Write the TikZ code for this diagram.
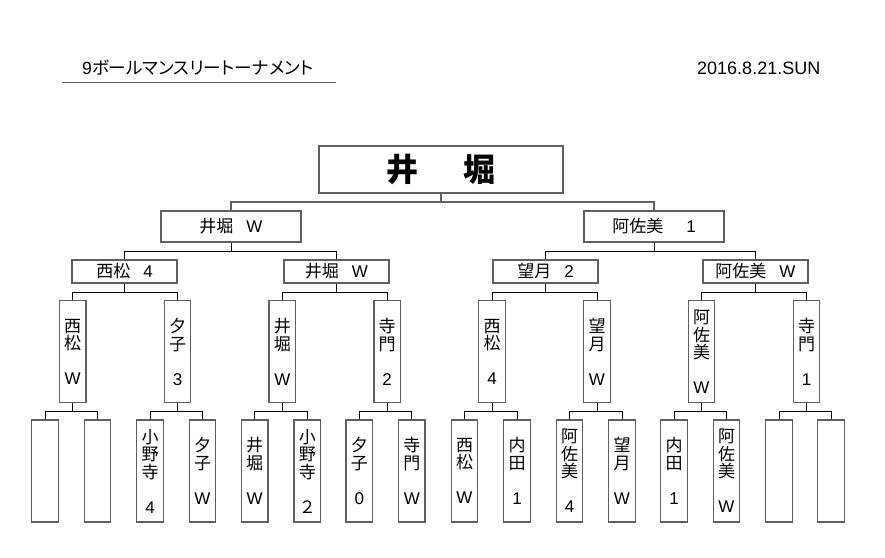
\documentclass[tikz,border=0pt]{standalone}
\usepackage{fontspec}
\setmainfont{Liberation Sans}
\newfontfamily\jp{Noto Sans CJK JP}
\newfontfamily\jpp[RawFeature=+palt]{Noto Sans CJK JP}
\definecolor{boxgray}{HTML}{606060}
\newcommand\JP[1]{{\jp #1}}
\begin{document}
\begin{tikzpicture}[x=1pt,y=-1pt,
  box/.style={draw=boxgray, line width=1.3pt, inner sep=0pt, fill=white},
  topbox/.style={box, minimum width=244pt, minimum height=47pt, font=\jp\bfseries\fontsize{32}{34}\selectfont},
  lvtwo/.style={box, minimum width=140pt, minimum height=31pt, font=\fontsize{17}{20}\selectfont},
  lvthree/.style={box, minimum width=105pt, minimum height=23pt, font=\fontsize{17}{20}\selectfont},
  vbox/.style={box, minimum width=26.5pt, minimum height=102pt, align=center, font=\fontsize{17}{17.5}\selectfont},
  link/.style={draw=black, line width=0.9pt},
  toplink/.style={draw=boxgray, line width=1.6pt},
  plain/.style={inner sep=0pt, anchor=west}
]
\useasboundingbox (0,0) rectangle (885,557);
\fill[white] (0,0) rectangle (885,557);

% header
\node[plain, font=\fontsize{17.6}{20}\selectfont] (title) at (82,68) {9{\jpp ボールマンスリートーナメント}};
\coordinate (ulA) at (62,82);
\coordinate (ulB) at (336,82);
\draw[draw=boxgray, line width=1pt] (ulA) -- (ulB);
\node[plain, font=\fontsize{18}{20}\selectfont] (date) at (697,68) {2016.8.21.SUN};

% levels
\coordinate (ya) at (0,202);
\coordinate (yb) at (0,251);
\coordinate (yc) at (0,292);
\coordinate (yd) at (0,411);

\node[topbox] (top) at (441,169.5) {井\hspace{45pt}堀};

\node[lvtwo] (Ltwo) at (231,226.5) {\JP{井堀}\hspace{13pt}W};
\node[lvtwo] (Rtwo) at (654,226.5) {\JP{阿佐美}\hspace{23pt}1};

\node[lvthree] (Ta) at (124.5,271.5) {\JP{西松}\hspace{13pt}4};
\node[lvthree] (Tb) at (336.5,271.5) {\JP{井堀}\hspace{13pt}W};
\node[lvthree] (Tc) at (545.5,271.5) {\JP{望月}\hspace{13pt}2};
\node[lvthree] (Td) at (755.5,271.5) {\JP{阿佐美}\hspace{13pt}W};

\node[vbox] (Fa) at (72.7,351.7) {\JP{西}\\\JP{松}\\[17.5pt]W};
\node[vbox] (Fb) at (177.5,351.7) {\JP{夕}\\\JP{子}\\[17.5pt]3};
\node[vbox] (Fc) at (282.3,351.7) {\JP{井}\\\JP{堀}\\[17.5pt]W};
\node[vbox] (Fd) at (387.2,351.7) {\JP{寺}\\\JP{門}\\[17.5pt]2};
\node[vbox] (Fe) at (492,351.7) {\JP{西}\\\JP{松}\\[17.5pt]4};
\node[vbox] (Ff) at (597,351.7) {\JP{望}\\\JP{月}\\[17.5pt]W};
\node[vbox] (Fg) at (701.5,351.7) {\JP{阿}\\\JP{佐}\\\JP{美}\\[17.5pt]W};
\node[vbox] (Fh) at (806.5,351.7) {\JP{寺}\\\JP{門}\\[17.5pt]1};

\node[vbox] (Ea) at (45,471) {};
\node[vbox] (Eb) at (97.5,471) {};
\node[vbox] (Ec) at (150,471) {\JP{小}\\\JP{野}\\\JP{寺}\\[17.5pt]4};
\node[vbox] (Ed) at (202.5,471) {\JP{夕}\\\JP{子}\\[17.5pt]W};
\node[vbox] (Ee) at (254.7,471) {\JP{井}\\\JP{堀}\\[17.5pt]W};
\node[vbox] (Ef) at (307.3,471) {\JP{小}\\\JP{野}\\\JP{寺}\\[17.5pt]\JP{２}};
\node[vbox] (Eg) at (359.3,471) {\JP{夕}\\\JP{子}\\[17.5pt]0};
\node[vbox] (Eh) at (411.8,471) {\JP{寺}\\\JP{門}\\[17.5pt]W};
\node[vbox] (Ei) at (464.5,471) {\JP{西}\\\JP{松}\\[17.5pt]W};
\node[vbox] (Ej) at (517,471) {\JP{内}\\\JP{田}\\[17.5pt]1};
\node[vbox] (Ek) at (569.5,471) {\JP{阿}\\\JP{佐}\\\JP{美}\\[17.5pt]4};
\node[vbox] (El) at (622,471) {\JP{望}\\\JP{月}\\[17.5pt]W};
\node[vbox] (Em) at (674,471) {\JP{内}\\\JP{田}\\[17.5pt]1};
\node[vbox] (En) at (726.5,471) {\JP{阿}\\\JP{佐}\\\JP{美}\\[17.5pt]W};
\node[vbox] (Eo) at (779,471) {};
\node[vbox] (Ep) at (831,471) {};

% connectors
\draw[toplink] (top.south) -- (top.south |- ya);
\draw[toplink] (Ltwo.north) -- (Ltwo.north |- ya) -- (Rtwo.north |- ya) -- (Rtwo.north);

\foreach \p/\a/\b/\y in {Ltwo/Ta/Tb/yb, Rtwo/Tc/Td/yb,
  Ta/Fa/Fb/yc, Tb/Fc/Fd/yc, Tc/Fe/Ff/yc, Td/Fg/Fh/yc,
  Fa/Ea/Eb/yd, Fb/Ec/Ed/yd, Fc/Ee/Ef/yd, Fd/Eg/Eh/yd,
  Fe/Ei/Ej/yd, Ff/Ek/El/yd, Fg/Em/En/yd, Fh/Eo/Ep/yd}{
  \draw[link] (\p.south) -- (\p.south |- \y);
  \draw[link] (\a.north) -- (\a.north |- \y) -- (\b.north |- \y) -- (\b.north);
}
\end{tikzpicture}
\end{document}
